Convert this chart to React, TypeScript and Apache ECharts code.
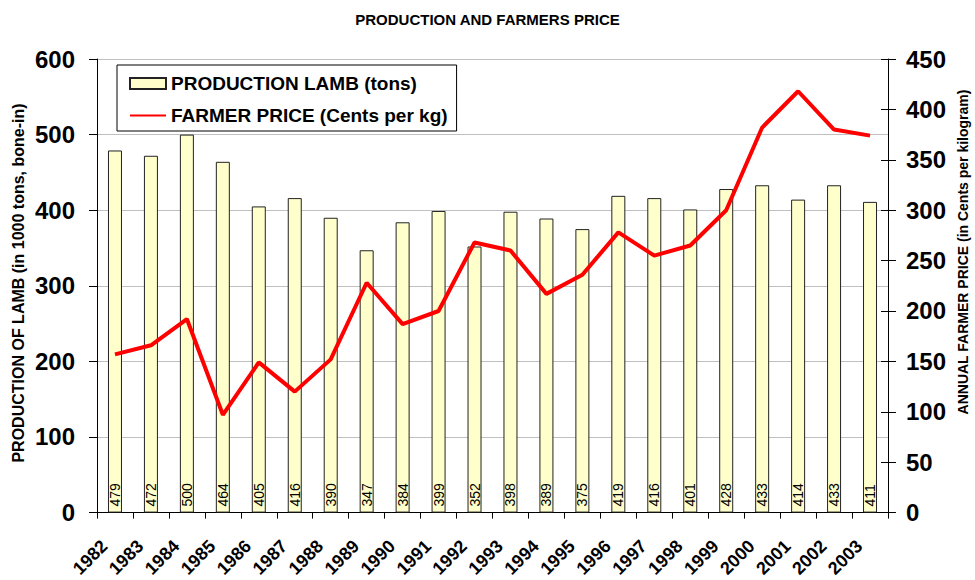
import React, { useEffect, useRef } from "react";
import * as echarts from "echarts";

const years = ["1982","1983","1984","1985","1986","1987","1988","1989","1990","1991","1992","1993","1994","1995","1996","1997","1998","1999","2000","2001","2002","2003"];
const production = [479,472,500,464,405,416,390,347,384,399,352,398,389,375,419,416,401,428,433,414,433,411];
const price = [157,166,192,97,149,120,152,228,187,200,268,260,217,236,278,255,265,300,382,418,380,374];

const FONT = "'Liberation Sans', Arial, Helvetica, sans-serif";

export default function App() {
  const ref = useRef<HTMLDivElement>(null);
  useEffect(() => {
    if (!ref.current) return;
    const chart = echarts.init(ref.current, null, { renderer: "svg" });
    chart.setOption({
      animation: false,
      backgroundColor: "#fff",
      textStyle: { fontFamily: FONT },
      title: {
        text: "PRODUCTION AND FARMERS PRICE",
        left: "center",
        top: 7,
        textStyle: { fontSize: 15, fontWeight: "bold", color: "#000", fontFamily: FONT },
      },
      legend: {
        orient: "vertical",
        left: 117,
        top: 65,
        padding: [9, 9, 6, 12],
        itemGap: 13,
        itemWidth: 36,
        itemHeight: 11,
        backgroundColor: "#fff",
        borderColor: "#000",
        borderWidth: 1,
        textStyle: { fontSize: 19, fontWeight: "bold", color: "#000", fontFamily: FONT },
        data: [
          { name: "PRODUCTION LAMB (tons)", icon: "rect" },
          { name: "FARMER PRICE (Cents per kg)", itemStyle: { opacity: 0 } },
        ],
      },
      grid: { left: 97, right: 87, top: 59, bottom: 64, containLabel: false },
      graphic: [
        {
          type: "text",
          x: 18,
          y: 283,
          rotation: Math.PI / 2,
          style: {
            text: "PRODUCTION OF LAMB (in 1000 tons, bone-in)",
            fontSize: 16,
            fontWeight: "bold",
            fontFamily: FONT,
            fill: "#000",
            align: "center",
            verticalAlign: "middle",
          },
        },
        {
          type: "text",
          x: 963,
          y: 252,
          rotation: Math.PI / 2,
          style: {
            text: "ANNUAL FARMER PRICE (in Cents per kilogram)",
            fontSize: 14,
            fontWeight: "bold",
            fontFamily: FONT,
            fill: "#000",
            align: "center",
            verticalAlign: "middle",
          },
        },
      ],
      xAxis: {
        type: "category",
        data: years,
        axisLine: { lineStyle: { color: "#000", width: 1 } },
        axisTick: { show: true, length: 6, lineStyle: { color: "#000" } },
        axisLabel: {
          interval: 0,
          rotate: 45,
          margin: 20,
          padding: [0, 15, 0, 0],
          fontSize: 18,
          fontWeight: "bold",
          color: "#000",
          fontFamily: FONT,
        },
      },
      yAxis: [
        {
          type: "value",
          min: 0,
          max: 600,
          interval: 100,
          position: "left",
          axisLine: { show: true, lineStyle: { color: "#000" } },
          axisTick: { show: true, length: 8, lineStyle: { color: "#000" } },
          axisLabel: { fontSize: 24, fontWeight: "bold", color: "#000", margin: 22, fontFamily: FONT },
          splitLine: { show: true, lineStyle: { color: "#c0c0c0", width: 1 } },
        },
        {
          type: "value",
          min: 0,
          max: 450,
          interval: 50,
          position: "right",
          axisLine: { show: true, lineStyle: { color: "#000" } },
          axisTick: { show: true, length: 8, lineStyle: { color: "#000" } },
          axisLabel: { fontSize: 24, fontWeight: "bold", color: "#000", margin: 18, fontFamily: FONT },
          splitLine: { show: false },
        },
        {
          type: "value",
          min: 0,
          max: 450,
          interval: 50,
          position: "right",
          axisLine: { show: false },
          axisTick: { show: true, inside: true, length: 7, lineStyle: { color: "#000" } },
          axisLabel: { show: false },
          splitLine: { show: false },
        },
      ],
      series: [
        {
          name: "PRODUCTION LAMB (tons)",
          type: "bar",
          yAxisIndex: 0,
          data: production,
          barWidth: 14,
          itemStyle: { color: "#FFFFCC", borderColor: "#222", borderWidth: 1 },
          label: {
            show: true,
            position: "insideBottom",
            rotate: 90,
            align: "left",
            verticalAlign: "middle",
            distance: 6,
            fontSize: 14,
            color: "#000",
            fontFamily: FONT,
          },
        },
        {
          name: "FARMER PRICE (Cents per kg)",
          type: "line",
          yAxisIndex: 1,
          data: price,
          symbol: "none",
          z: 5,
          itemStyle: { color: "#FF0000" },
          lineStyle: { color: "#FF0000", width: 4 },
        },
      ],
    });
    return () => chart.dispose();
  }, []);
  return <div ref={ref} style={{ position: "fixed", left: 0, top: 0, width: 975, height: 580 }} />;
}
